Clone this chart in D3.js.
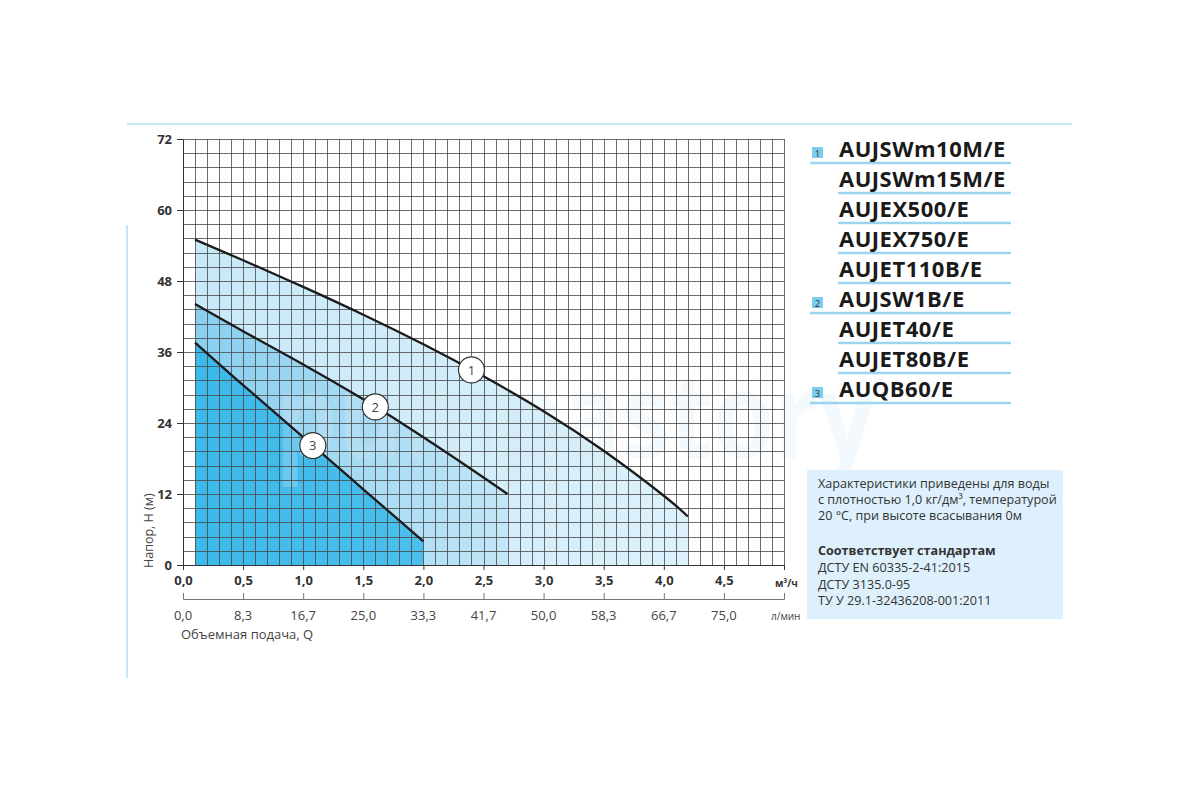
<!DOCTYPE html>
<html>
<head>
<meta charset="utf-8">
<script src="https://cdn.jsdelivr.net/npm/d3@7"></script>
<style>
    body { margin: 0; background: #fff; }
    svg { display: block; }
    text { font-family: "Open Sans", "Noto Sans", sans-serif; }
</style>
</head>
<body>
<svg id="chart" width="1200" height="800"></svg>
<script>
// ---------- data (Q in m3/h, H in m) ----------
var curve1Q = [0.1, 0.5, 1.0, 1.5, 2.0, 2.5, 3.0, 3.5, 4.0, 4.2];
var curve1H = [55.0, 51.5, 47.0, 42.3, 37.3, 31.9, 26.0, 19.3, 11.7, 8.2];
var curve2Q = [0.1, 0.5, 1.0, 1.5, 2.0, 2.5, 2.7];
var curve2H = [44.1, 39.5, 33.9, 28.0, 21.6, 14.8, 12.0];
var curve3Q = [0.1, 0.5, 1.0, 1.5, 2.0];
var curve3H = [37.6, 30.4, 21.6, 12.8, 4.0];
var curveLabelQ = [2.4, 1.6, 1.08];

var headTicks = [0, 12, 24, 36, 48, 60, 72];
var flowTicks = [0, 0.5, 1.0, 1.5, 2.0, 2.5, 3.0, 3.5, 4.0, 4.5, 5.0];
var lpmLabels = ["0,0", "8,3", "16,7", "25,0", "33,3", "41,7", "50,0", "58,3", "66,7", "75,0"];

var models = ["AUJSWm10M/E", "AUJSWm15M/E", "AUJEX500/E", "AUJEX750/E", "AUJET110B/E",
              "AUJSW1B/E", "AUJET40/E", "AUJET80B/E", "AUQB60/E"];
var modelCurve = [1, 0, 0, 0, 0, 2, 0, 0, 3];

var noteLines = ["Характеристики приведены для воды",
                 "с плотностью 1,0 кг/дм³, температурой",
                 "20 °C, при высоте всасывания 0м"];
var standardsTitle = "Соответствует стандартам";
var standards = ["ДСТУ EN 60335-2-41:2015", "ДСТУ 3135.0-95", "ТУ У 29.1-32436208-001:2011"];

// ---------- setup ----------
var svg = d3.select("#chart");
var x = d3.scaleLinear().domain([0, 5]).range([183, 784]);
var y = d3.scaleLinear().domain([0, 72]).range([565, 139]);
var comma = function (v) { return d3.format(".1f")(v).replace(".", ","); };

var curves = [
    { id: 1, q: curve1Q, h: curve1H, c0: "#c8e9f9", c1: "#dcf1fb" },
    { id: 2, q: curve2Q, h: curve2H, c0: "#88cff0", c1: "#c2e6f7" },
    { id: 3, q: curve3Q, h: curve3H, c0: "#3bb9ea", c1: "#4cbfec" }
];
curves.forEach(function (c) {
    c.points = c.q.map(function (q, i) { return { q: q, h: c.h[i] }; });
});

// decorative frame lines
svg.append("line").attr("x1", 127).attr("x2", 1072).attr("y1", 124).attr("y2", 124)
    .attr("stroke", "#c6e6f6").attr("stroke-width", 2);
svg.append("line").attr("x1", 127).attr("x2", 127).attr("y1", 225).attr("y2", 678)
    .attr("stroke", "#c6e6f6").attr("stroke-width", 2);

// gradients for the fills
var defs = svg.append("defs");
curves.forEach(function (c) {
    var g = defs.append("linearGradient").attr("id", "fill" + c.id)
        .attr("gradientUnits", "userSpaceOnUse")
        .attr("x1", x(c.q[0])).attr("x2", x(c.q[c.q.length - 1]))
        .attr("y1", 0).attr("y2", 0);
    g.append("stop").attr("offset", 0).attr("stop-color", c.c0);
    g.append("stop").attr("offset", 1).attr("stop-color", c.c1);
});

// areas under the curves
var area = d3.area()
    .x(function (d) { return x(d.q); })
    .y0(y(0))
    .y1(function (d) { return y(d.h); })
    .curve(d3.curveNatural);

svg.append("g").selectAll("path")
    .data(curves)
    .enter().append("path")
    .attr("d", function (c) { return area(c.points); })
    .attr("fill", function (c) { return "url(#fill" + c.id + ")"; });

// faint watermark
svg.append("text")
    .attr("x", 275).attr("y", 458)
    .attr("textLength", 600).attr("lengthAdjust", "spacingAndGlyphs")
    .attr("font-size", 118).attr("font-weight", 700)
    .attr("fill", "#d6eaf6").attr("opacity", 0.28)
    .text("pumpastory");

// grid
var grid = svg.append("g").attr("stroke", "#474747").attr("stroke-width", 0.8)
    .attr("shape-rendering", "crispEdges");
grid.selectAll(".v").data(d3.range(0, 51)).enter().append("line")
    .attr("class", "v")
    .attr("x1", function (i) { return Math.round(x(i / 10)) + 0.5; })
    .attr("x2", function (i) { return Math.round(x(i / 10)) + 0.5; })
    .attr("y1", y(72)).attr("y2", y(0));
grid.selectAll(".h").data(d3.range(0, 31)).enter().append("line")
    .attr("class", "h")
    .attr("y1", function (i) { return Math.round(y(i * 2.4)) + 0.5; })
    .attr("y2", function (i) { return Math.round(y(i * 2.4)) + 0.5; })
    .attr("x1", x(0)).attr("x2", x(5));

// curves
var line = d3.line()
    .x(function (d) { return x(d.q); })
    .y(function (d) { return y(d.h); })
    .curve(d3.curveNatural);

svg.append("g").selectAll("path")
    .data(curves)
    .enter().append("path")
    .attr("d", function (c) { return line(c.points); })
    .attr("fill", "none")
    .attr("stroke", "#1b1b1b")
    .attr("stroke-width", 2.3);

// curve number markers
var marks = svg.append("g").selectAll("g")
    .data(curves)
    .enter().append("g")
    .attr("transform", function (c, i) {
        var hAt = d3.scaleLinear().domain(c.q).range(c.h);
        var q = curveLabelQ[i];
        return "translate(" + x(q) + "," + y(hAt(q)) + ")";
    });
marks.append("circle").attr("r", 13)
    .attr("fill", "#fff").attr("stroke", "#333").attr("stroke-width", 1.2);
marks.append("text").attr("text-anchor", "middle").attr("dy", "0.36em")
    .attr("font-size", 13).attr("fill", "#444")
    .text(function (c) { return c.id; });

// y axis
var yAxis = svg.append("g")
    .attr("transform", "translate(" + x(0) + ",0)")
    .call(d3.axisLeft(y).tickValues(headTicks).tickSize(6).tickSizeOuter(0).tickPadding(5));
yAxis.selectAll("text").attr("font-size", 13).attr("font-weight", 700).attr("fill", "#333")
    .attr("font-family", "'Open Sans', sans-serif");
yAxis.selectAll("line, path").attr("stroke", "#333");

svg.append("text")
    .attr("transform", "translate(153,568) rotate(-90)")
    .attr("font-size", 12.5).attr("fill", "#444")
    .text("Напор, H (м)");

// x axis, m3/h
var xAxis = svg.append("g")
    .attr("transform", "translate(0," + y(0) + ")")
    .call(d3.axisBottom(x).tickValues(flowTicks).tickSize(5).tickSizeOuter(0).tickPadding(6)
        .tickFormat(function (v) { return v === 5 ? "" : comma(v); }));
xAxis.selectAll("text").attr("font-size", 13).attr("font-weight", 700).attr("fill", "#333")
    .attr("font-family", "'Open Sans', sans-serif");
xAxis.selectAll("line, path").attr("stroke", "#333");

svg.append("text").attr("x", 775).attr("y", 587)
    .attr("font-size", 10).attr("font-weight", 700).attr("fill", "#333")
    .text("м³/ч");

// second x axis, l/min
var lAxis = svg.append("g")
    .attr("transform", "translate(0,599)")
    .call(d3.axisTop(x).tickValues(flowTicks).tickSize(6).tickSizeOuter(6).tickFormat(""));
lAxis.selectAll("line, path").attr("stroke", "#777");

svg.append("g").selectAll("text")
    .data(lpmLabels)
    .enter().append("text")
    .attr("x", function (d, i) { return x(flowTicks[i]); })
    .attr("y", 620)
    .attr("text-anchor", "middle")
    .attr("font-size", 13).attr("fill", "#444")
    .text(function (d) { return d; });

svg.append("text").attr("x", 771).attr("y", 620)
    .attr("font-size", 10).attr("fill", "#444")
    .text("л/мин");

svg.append("text").attr("x", 181).attr("y", 639)
    .attr("font-size", 13).attr("fill", "#444")
    .text("Объемная подача, Q");

// legend
var legend = svg.append("g").selectAll("g")
    .data(models)
    .enter().append("g")
    .attr("transform", function (d, i) { return "translate(0," + (157 + i * 30) + ")"; });

legend.append("line")
    .attr("x1", function (d, i) { return modelCurve[i] ? 810 : 838; })
    .attr("x2", 1011).attr("y1", 6).attr("y2", 6)
    .attr("stroke", "#9ad4ef").attr("stroke-width", 2.5);

legend.append("text")
    .attr("x", 839).attr("y", 0)
    .attr("font-size", 22).attr("font-weight", 700).attr("letter-spacing", 0.5)
    .attr("fill", "#1a1a1a")
    .text(function (d) { return d; });

var numbered = legend.filter(function (d, i) { return modelCurve[i] > 0; });
numbered.append("rect")
    .attr("x", 812).attr("y", -10).attr("width", 11).attr("height", 11)
    .attr("fill", "#7ccdf0");
numbered.append("text")
    .attr("x", 817.5).attr("y", -0.5).attr("text-anchor", "middle")
    .attr("font-size", 9.5).attr("fill", "#333")
    .text(function (d) { return modelCurve[models.indexOf(d)]; });

// note box
svg.append("rect").attr("x", 807).attr("y", 470).attr("width", 256).attr("height", 149)
    .attr("fill", "#ddf0fb");

svg.append("g").selectAll("text")
    .data(noteLines)
    .enter().append("text")
    .attr("x", 818).attr("y", function (d, i) { return 488 + i * 16; })
    .attr("font-size", 12.6).attr("fill", "#333")
    .text(function (d) { return d; });

svg.append("text").attr("x", 818).attr("y", 555)
    .attr("font-size", 12.6).attr("font-weight", 700).attr("fill", "#333")
    .text(standardsTitle);

svg.append("g").selectAll("text")
    .data(standards)
    .enter().append("text")
    .attr("x", 818).attr("y", function (d, i) { return 572 + i * 16.5; })
    .attr("font-size", 12.6).attr("fill", "#333")
    .text(function (d) { return d; });
</script>
</body>
</html>
